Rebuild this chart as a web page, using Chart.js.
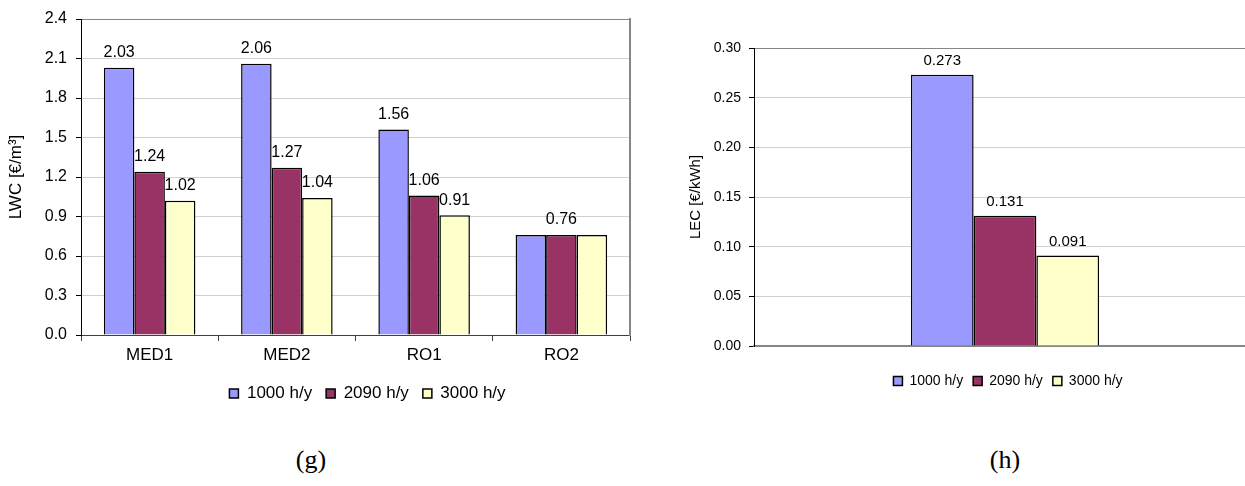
<!DOCTYPE html>
<html>
<head>
<meta charset="utf-8">
<script src="https://cdn.jsdelivr.net/npm/chart.js@4/dist/chart.umd.min.js"></script>
<style>
  body { margin: 0; background: #fff; overflow: hidden; }
  #page { position: relative; width: 1245px; height: 486px; overflow: hidden; background: #fff; }
  canvas { position: absolute; top: 0; }
  #lwc { left: 0; }
  #lec { left: 680px; }
  .cap { position: absolute; top: 445px; width: 100px; text-align: center;
         font-family: "Liberation Serif", "Times New Roman", serif; font-size: 26px; color: #000; }
</style>
</head>
<body>
<div id="page">
  <canvas id="lwc" width="640" height="412"></canvas>
  <canvas id="lec" width="580" height="398"></canvas>
  <div class="cap" style="left:261px">(g)</div>
  <div class="cap" style="left:955px">(h)</div>
</div>
<script>
// water cost per plant, three operating-hour cases
var plants = ['MED1', 'MED2', 'RO1', 'RO2'];
var lwc_1000 = [2.03, 2.06, 1.56, 0.76];
var lwc_2090 = [1.24, 1.27, 1.06, 0.76];
var lwc_3000 = [1.02, 1.04, 0.91, 0.76];

// electricity cost, same cases
var lec_1000 = [0.273];
var lec_2090 = [0.131];
var lec_3000 = [0.091];

var hours = ['1000 h/y', '2090 h/y', '3000 h/y'];
var fills = ['#9999FF', '#993366', '#FFFFCC'];

Chart.defaults.font.family = 'Arial, "Liberation Sans", sans-serif';
Chart.defaults.color = '#000';
Chart.defaults.animation = false;

function makeSets(series) {
	return series.map(function (d, i) {
		return {
			label: hours[i],
			data: d,
			backgroundColor: fills[i],
			borderColor: '#000',
			borderWidth: 1.5,
			categoryPercentage: 1,
			barPercentage: 1
		};
	});
}

// value labels above the bars; a group of equal values gets one label in the middle
var barValues = {
	id: 'barValues',
	afterDatasetsDraw: function (chart, args, opts) {
		var ctx = chart.ctx;
		var sets = chart.data.datasets;
		ctx.save();
		ctx.font = opts.size + 'px Arial, "Liberation Sans", sans-serif';
		ctx.fillStyle = '#000';
		ctx.textAlign = 'center';
		ctx.textBaseline = 'middle';
		sets.forEach(function (ds, i) {
			var meta = chart.getDatasetMeta(i);
			meta.data.forEach(function (bar, j) {
				var vals = sets.map(function (s) { return s.data[j]; });
				var same = vals.every(function (v) { return v === vals[0]; });
				if (same && i !== 1) return;
				ctx.fillText(ds.data[j].toFixed(opts.decimals), bar.x, bar.y - opts.gap);
			});
		});
		ctx.restore();
	}
};

// shift the legend sideways
var legendShift = {
	id: 'legendShift',
	afterLayout: function (chart, args, opts) {
		chart.legend.left += opts.dx;
		chart.legend.right += opts.dx;
	}
};

var rel1 = new Chart(document.getElementById('lwc'), {
	type: 'bar',
	data: {
		labels: plants,
		datasets: makeSets([lwc_1000, lwc_2090, lwc_3000]).map(function (d) {
			d.categoryPercentage = 0.667;
			return d;
		})
	},
	plugins: [barValues, legendShift],
	options: {
		responsive: false,
		layout: { padding: { top: 19, right: 10, left: 0, bottom: 0 } },
		plugins: {
			tooltip: { enabled: false },
			legend: {
				position: 'bottom',
				fullSize: false,
				labels: { boxWidth: 9, boxHeight: 9, padding: 14, font: { size: 17 } }
			},
			barValues: { size: 16, decimals: 2, gap: 15 },
			legendShift: { dx: 12 }
		},
		scales: {
			x: {
				grid: { offset: true, drawOnChartArea: false, tickLength: 6, tickColor: '#404040' },
				border: { color: '#404040', width: 1 },
				ticks: { font: { size: 17 }, padding: 4 },
				afterFit: function (s) { s.height = 36; }
			},
			y: {
				min: 0,
				max: 2.4,
				ticks: {
					stepSize: 0.3,
					font: { size: 16 },
					padding: 9,
					callback: function (v) { return v.toFixed(1); }
				},
				grid: {
					tickLength: 5,
					tickColor: '#000',
					color: function (c) { return c.tick && c.tick.value > 2.39 ? '#868686' : '#d0d0d0'; }
				},
				border: { color: '#000', width: 1 },
				title: { display: true, text: 'LWC [€/m³]', font: { size: 17 }, padding: { top: 6, bottom: 0 } },
				afterFit: function (s) { s.width = 81; }
			},
			y2: {
				position: 'right',
				min: 0,
				max: 1,
				grid: { display: false, drawTicks: false },
				ticks: { display: false },
				border: { color: '#868686', width: 2 }
			}
		}
	}
});

var rel2 = new Chart(document.getElementById('lec'), {
	type: 'bar',
	data: {
		labels: [''],
		datasets: makeSets([lec_1000, lec_2090, lec_3000]).map(function (d) {
			d.categoryPercentage = 0.375;
			return d;
		})
	},
	plugins: [barValues, legendShift],
	options: {
		responsive: false,
		layout: { padding: { top: 48, right: 4, left: 0, bottom: 0 } },
		plugins: {
			tooltip: { enabled: false },
			legend: {
				position: 'bottom',
				fullSize: false,
				labels: { boxWidth: 9, boxHeight: 9, padding: 10, font: { size: 14 } }
			},
			barValues: { size: 15, decimals: 3, gap: 14 },
			legendShift: { dx: 3 }
		},
		scales: {
			x: {
				grid: { display: false },
				border: { color: '#868686', width: 2 },
				ticks: { display: false },
				afterFit: function (s) { s.height = 18; }
			},
			y: {
				min: 0,
				max: 0.3,
				ticks: {
					stepSize: 0.05,
					font: { size: 14 },
					padding: 8,
					callback: function (v) { return v.toFixed(2); }
				},
				grid: {
					tickLength: 5,
					tickColor: '#000',
					color: function (c) { return c.tick && c.tick.value > 0.299 ? '#868686' : '#d0d0d0'; }
				},
				border: { color: '#000', width: 1 },
				title: { display: true, text: 'LEC [€/kWh]', font: { size: 15 }, padding: { top: 7, bottom: 0 } },
				afterFit: function (s) { s.width = 74; }
			}
		}
	}
});
</script>
</body>
</html>
